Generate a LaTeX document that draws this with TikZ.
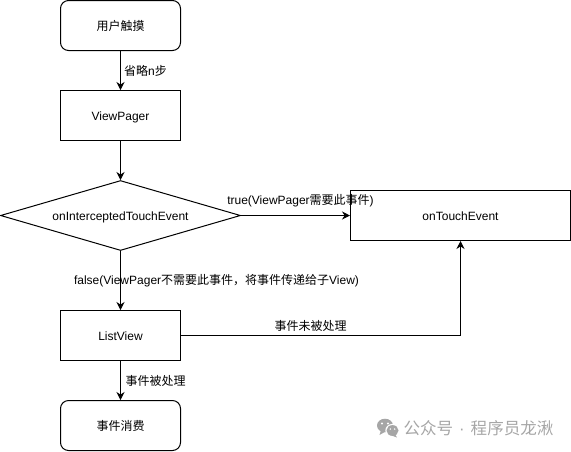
\documentclass[tikz,border=0pt]{standalone}
\usepackage{fontspec}
\setmainfont{Liberation Sans}
\newfontfamily\cjkfont{Noto Sans CJK SC}
\newcommand{\zh}[1]{{\cjkfont #1}}
\usepackage{xcolor}
\usetikzlibrary{shapes.geometric,positioning,calc,arrows.meta}
\definecolor{markgray}{HTML}{A6A6A6}
\tikzset{
  flowbox/.style={draw=black, line width=0.75pt, minimum width=90pt, minimum height=37.5pt, inner sep=0pt, text height=7pt, text depth=0pt, font=\fontsize{9}{11}\selectfont},
  endbox/.style={flowbox, rounded corners=6pt},
  flowlabel/.style={inner sep=0pt, font=\fontsize{9}{11}\selectfont},
  flowarrow/.style={draw=black, line width=0.75pt, -{Stealth[length=6pt,width=6pt]}}
}

\begin{document}
\begin{tikzpicture}[x=0.75pt, y=-0.75pt]
  \useasboundingbox (0, 0) rectangle (571, 451);

  % Left column
  \node[endbox] (touch) at (120.5, 25.5) {\zh{用户触摸}};
  \node[flowbox] (pager) at (120.5, 115.5) {ViewPager};
  \node[diamond, shape aspect=3.43, draw=black, line width=0.75pt, minimum width=180pt, minimum height=52.5pt, inner sep=0pt, text height=7pt, text depth=0pt, font=\fontsize{9}{11}\selectfont] (intercept) at (120.5, 215.5) {onInterceptedTouchEvent};
  \node[flowbox] (list) at (120.5, 335.5) {ListView};
  \node[endbox] (consume) at (120.5, 425.5) {\zh{事件消费}};

  % Right box
  \node[flowbox, minimum width=165pt] (touchevent) at (460.5, 215.5) {onTouchEvent};

  % Connectors
  \draw[flowarrow] (touch) -- (pager);
  \draw[flowarrow] (pager) -- (intercept);
  \draw[flowarrow] (intercept) -- (touchevent);
  \draw[flowarrow] (intercept) -- (list);
  \draw[flowarrow] (list) -- (consume);
  \draw[flowarrow] (list) -| (touchevent);

  % Labels
  \node[flowlabel] (lblskip) at (145.5, 70.5) {\zh{省略}n\zh{步}};
  \node[flowlabel] (lbltrue) at (300.5, 201) {true(ViewPager\zh{需要此事件})};
  \node[flowlabel] (lblfalse) at (216.5, 281) {false(ViewPager\zh{不需要此事件，将事件传递给子}View)};
  \node[flowlabel] (lblunhandled) at (310.5, 326) {\zh{事件未被处理}};
  \node[flowlabel] (lblhandled) at (155.5, 381) {\zh{事件被处理}};

  % Watermark
  \fill[markgray] (385, 425.5) ellipse (8 and 6.8);
  \fill[markgray] (381, 430) -- (379.5, 435) -- (385.5, 431.5) -- cycle;
  \fill[white] (392.5, 430.5) ellipse (7.2 and 6.6);
  \fill[markgray] (392.5, 430.5) ellipse (6 and 5.4);
  \fill[markgray] (395, 434) -- (397, 437.5) -- (391.5, 435.5) -- cycle;
  \fill[white] (382, 423.5) circle (1.1) (388, 423.5) circle (1.1);
  \fill[white] (390.3, 429) circle (0.8) (394.7, 429) circle (0.8);
  \node[inner sep=0pt, text=markgray, font=\fontsize{12.4}{14}\selectfont\cjkfont] (mark) at (478.5, 428.5) {公众号\hspace{4.5pt}{\rmfamily ·}\hspace{4.5pt}程序员龙湫};
\end{tikzpicture}
\end{document}
